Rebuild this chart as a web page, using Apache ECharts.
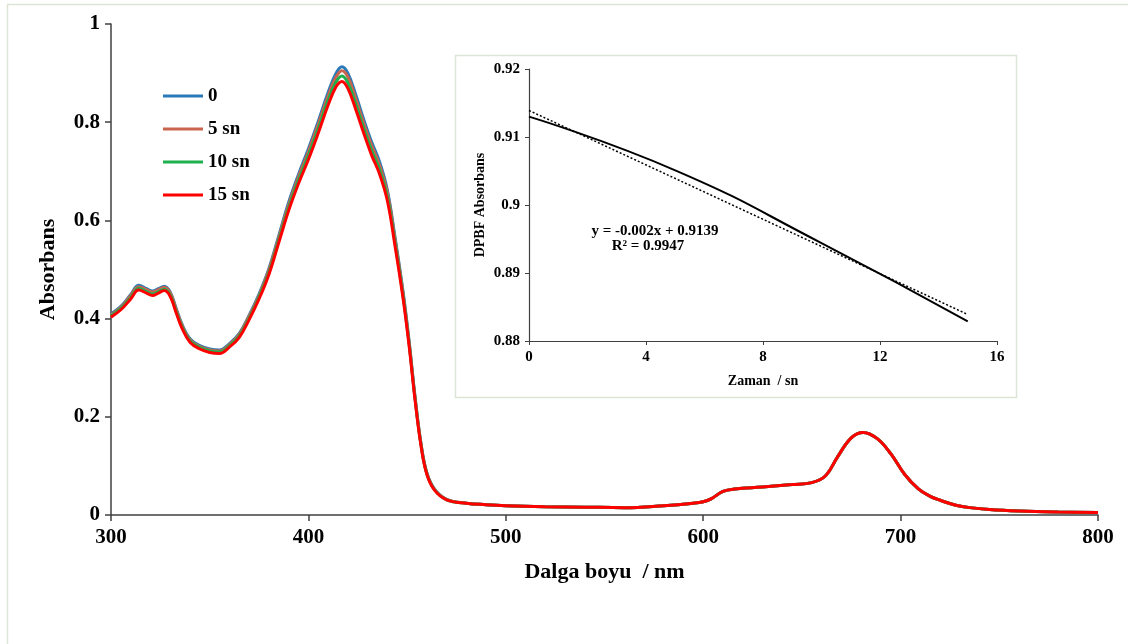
<!DOCTYPE html>
<html><head><meta charset="utf-8">
<script src="https://cdn.jsdelivr.net/npm/echarts@6/dist/echarts.min.js"></script>
<style>html,body{margin:0;padding:0;background:#fff}#c{width:1128px;height:644px}</style>
</head><body><div id="c"></div>
<script>
// Main spectrum: UV/Soret region (series differ)
const wlUV = [300,305,310,314,318,321,324,327,330,333,336,340,345,350,355,360,365,370,375,380,385,390,395,400,405,410,414,417,420,424,428,432,436,440,444,448,451,454,457,460,464,470];
const abs0 = [0.41,0.425,0.449,0.468,0.461,0.456,0.461,0.466,0.454,0.421,0.388,0.359,0.345,0.338,0.336,0.349,0.37,0.407,0.45,0.502,0.569,0.637,0.694,0.746,0.802,0.861,0.9,0.913,0.9,0.856,0.806,0.76,0.72,0.662,0.563,0.454,0.355,0.242,0.147,0.086,0.052,0.032];
const abs5 = [0.408,0.423,0.447,0.465,0.459,0.454,0.459,0.464,0.452,0.419,0.386,0.357,0.343,0.336,0.334,0.347,0.368,0.405,0.447,0.499,0.565,0.632,0.689,0.74,0.796,0.854,0.892,0.905,0.892,0.848,0.798,0.753,0.713,0.656,0.558,0.45,0.352,0.24,0.146,0.085,0.051,0.032];
const abs10 = [0.406,0.421,0.443,0.462,0.455,0.45,0.455,0.46,0.448,0.415,0.383,0.355,0.341,0.334,0.332,0.345,0.365,0.401,0.444,0.494,0.56,0.626,0.682,0.732,0.787,0.845,0.882,0.894,0.88,0.837,0.788,0.743,0.704,0.648,0.552,0.445,0.349,0.238,0.144,0.084,0.051,0.031];
const abs15 = [0.403,0.418,0.44,0.458,0.452,0.447,0.452,0.457,0.445,0.412,0.38,0.352,0.338,0.331,0.329,0.342,0.362,0.398,0.44,0.49,0.555,0.62,0.675,0.724,0.778,0.835,0.872,0.883,0.869,0.826,0.778,0.733,0.695,0.64,0.545,0.44,0.345,0.235,0.142,0.083,0.05,0.031];
// Visible/Q-band region (all series coincide)
const wlTail = [480,490,500,520,540,560,580,595,600,604,610,616,630,645,655,662,668,675,681,688,695,702,709,715,720,728,735,745,760,780,800];
const absTail = [0.024,0.021,0.019,0.017,0.016,0.015,0.019,0.024,0.027,0.033,0.048,0.053,0.057,0.062,0.066,0.08,0.118,0.157,0.168,0.156,0.125,0.083,0.053,0.038,0.03,0.02,0.015,0.011,0.008,0.006,0.005];
const seriesNames = ['0','5 sn','10 sn','15 sn'];
const seriesColors = ['#2a7ab9','#c9654c','#1fb04e','#ff0000'];
const xTicks = [300,400,500,600,700,800];
const yTicks = [0,0.2,0.4,0.6,0.8,1];
// Inset: DPBF absorbance vs time
const timeSec = [0,5,10,15];
const dpbfAbs = [0.913,0.9051,0.8944,0.8829];
const trendX = [0,15];
const trendY = [0.9139,0.8839];
const eqText = 'y = -0.002x + 0.9139';
const r2Text = 'R² = 0.9947';

const FONT = "'Liberation Serif','Times New Roman',serif";
const AX = '#404040';
function pair(xs, ys){ return xs.map((x,i)=>[x, ys[i]]); }
const allSets = [abs0, abs5, abs10, abs15];

const chart = echarts.init(document.getElementById('c'), null, {renderer:'canvas'});
const mainSeries = allSets.map((s,i)=>({
  name: seriesNames[i], type:'line', xAxisIndex:0, yAxisIndex:0,
  data: pair(wlUV.concat(wlTail), s.concat(absTail)),
  showSymbol:false, smooth:0.4, lineStyle:{width:3,color:seriesColors[i]}, itemStyle:{color:seriesColors[i]}, z:2+i
}));
const option = {
  animation:false,
  backgroundColor:'#fff',
  textStyle:{fontFamily:FONT},
  grid:[
    {left:111, right:30, top:24, bottom:129},
    {left:529, right:131, top:69, bottom:303}
  ],
  legend:{
    data:seriesNames, orient:'vertical', left:158, top:81,
    icon:'rect', itemWidth:40, itemHeight:3, itemGap:13,
    textStyle:{fontFamily:FONT, fontWeight:'bold', fontSize:19, color:'#000', lineHeight:20}
  },
  xAxis:[
    {type:'value', gridIndex:0, min:xTicks[0], max:xTicks[xTicks.length-1], interval:100,
     name:'Dalga boyu  / nm', nameLocation:'middle', nameGap:46,
     nameTextStyle:{fontFamily:FONT, fontWeight:'bold', fontSize:22, color:'#000'},
     axisLine:{lineStyle:{color:AX,width:1.5}}, axisTick:{length:6, lineStyle:{color:AX,width:1.5}},
     axisLabel:{fontFamily:FONT, fontWeight:'bold', fontSize:21, color:'#000', margin:12},
     splitLine:{show:false}},
    {type:'value', gridIndex:1, min:0, max:16, interval:4,
     name:'Zaman  / sn', nameLocation:'middle', nameGap:33,
     nameTextStyle:{fontFamily:FONT, fontWeight:'bold', fontSize:14, color:'#000'},
     axisLine:{onZero:false, lineStyle:{color:AX,width:1.2}}, axisTick:{length:4, lineStyle:{color:AX}},
     axisLabel:{fontFamily:FONT, fontWeight:'bold', fontSize:15, color:'#000', margin:9},
     splitLine:{show:false}}
  ],
  yAxis:[
    {type:'value', gridIndex:0, min:yTicks[0], max:yTicks[yTicks.length-1], interval:0.2,
     name:'Absorbans', nameLocation:'middle', nameGap:52, nameRotate:90,
     nameTextStyle:{fontFamily:FONT, fontWeight:'bold', fontSize:22, color:'#000'},
     axisLine:{show:true, lineStyle:{color:AX,width:1.5}}, axisTick:{show:true, length:6, lineStyle:{color:AX,width:1.5}},
     axisLabel:{fontFamily:FONT, fontWeight:'bold', fontSize:21, color:'#000', margin:11},
     splitLine:{show:false}},
    {type:'value', gridIndex:1, min:0.88, max:0.92, interval:0.01,
     name:'DPBF Absorbans', nameLocation:'middle', nameGap:42, nameRotate:90,
     nameTextStyle:{fontFamily:FONT, fontWeight:'bold', fontSize:14, color:'#000'},
     axisLine:{show:true, onZero:false, lineStyle:{color:AX,width:1.2}}, axisTick:{show:true, length:4, lineStyle:{color:AX}},
     axisLabel:{fontFamily:FONT, fontWeight:'bold', fontSize:15, color:'#000', margin:9},
     splitLine:{show:false}}
  ],
  graphic:[
    {type:'rect', shape:{x:7.5, y:4.5, width:1140, height:660}, style:{fill:'none', stroke:'#dde5d6', lineWidth:1.5}, silent:true, z:0},
    {type:'rect', shape:{x:455.5, y:55.5, width:561, height:342}, style:{fill:'none', stroke:'#dde5d6', lineWidth:1.5}, silent:true, z:0},
    {type:'text', x:655, y:231, style:{text:eqText, font:"bold 15px 'Liberation Serif','Times New Roman',serif", fill:'#000', textAlign:'center', textVerticalAlign:'middle'}, z:10},
    {type:'text', x:648, y:246, style:{text:r2Text, font:"bold 15px 'Liberation Serif','Times New Roman',serif", fill:'#000', textAlign:'center', textVerticalAlign:'middle'}, z:10}
  ],
  series: mainSeries.concat([
    {name:'DPBF', type:'line', xAxisIndex:1, yAxisIndex:1, data:pair(timeSec, dpbfAbs), showSymbol:false, smooth:0.5,
     lineStyle:{width:2,color:'#000'}, itemStyle:{color:'#000'}, z:5},
    {name:'trend', type:'line', xAxisIndex:1, yAxisIndex:1, data:pair(trendX, trendY), showSymbol:false,
     lineStyle:{width:1.5,color:'#000',type:[2,2]}, itemStyle:{color:'#000'}, z:6}
  ])
};
chart.setOption(option);
</script></body></html>
